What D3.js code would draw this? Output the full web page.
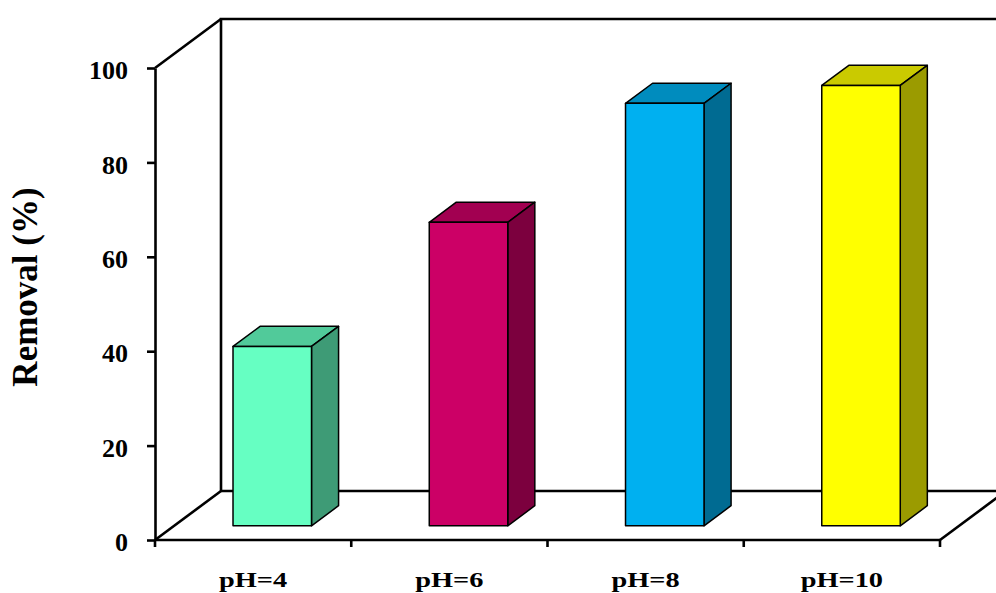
<!DOCTYPE html>
<html>
<head>
<meta charset="utf-8">
<script src="https://cdn.jsdelivr.net/npm/d3@7"></script>
<style>
  body { margin: 0; background: #fff; }
  text { font-family: "Liberation Serif", "Times New Roman", serif; font-weight: bold; fill: #000; }
</style>
</head>
<body>
<script>
// data
const categories = ["pH=4", "pH=6", "pH=8", "pH=10"]
const removal = [38, 64.3, 89.5, 93.3]
const yTicks = [0, 20, 40, 60, 80, 100]
const frontColors = ["#66ffc2", "#cc0066", "#00b0f0", "#ffff00"]

const W = 996, H = 593
const plotLeft = 155, plotRight = 940, plotBottom = 540, plotTop = 68
const DX = 66, DY = 49          // depth offset of the back wall
const z0 = 0.29, z1 = 0.70      // bar depth range (0 = front, 1 = back)

let svg = d3.select("body").append("svg")
  .attr("width", W)
  .attr("height", H)

let x = d3.scaleBand()
  .domain(categories)
  .range([plotLeft, plotRight])
  .paddingInner(0.6)
  .paddingOuter(0.3)

let y = d3.scaleLinear()
  .domain([0, 100])
  .range([plotBottom, plotTop])

// project a (x, value, depth) point to the screen
function proj(px, v, z) {
  return [px + z * DX, y(v) - z * DY]
}

let line = d3.line()
let frame = svg.append("g")
  .attr("fill", "none")
  .attr("stroke", "#000")
  .attr("stroke-width", 2.6)

// back wall and floor back edge
frame.append("path").attr("d", line([proj(plotLeft, 0, 1), proj(plotLeft, 100, 1), proj(plotRight + 40, 100, 1)]))
frame.append("path").attr("d", line([proj(plotLeft, 0, 1), proj(plotRight, 0, 1)]))
// left wall diagonals
frame.append("path").attr("d", line([proj(plotLeft, 100, 0), proj(plotLeft, 100, 1)]))
frame.append("path").attr("d", line([proj(plotLeft, 0, 0), proj(plotLeft, 0, 1)]))
// floor right edge
frame.append("path").attr("d", line([proj(plotRight, 0, 0), proj(plotRight, 0, 1)]))

// bars
let bars = svg.append("g")
  .selectAll("g.bar")
  .data(categories.map((c, i) => ({ c: c, v: removal[i], color: frontColors[i] })))
  .enter()
  .append("g")
  .attr("class", "bar")
  .attr("stroke", "#000")
  .attr("stroke-width", 1.5)
  .attr("stroke-linejoin", "round")

bars.append("path")   // top
  .attr("fill", d => d3.rgb(d.color).darker(0.65))
  .attr("d", d => {
    let a = x(d.c), b = x(d.c) + x.bandwidth()
    return line([proj(a, d.v, z0), proj(b, d.v, z0), proj(b, d.v, z1), proj(a, d.v, z1)]) + "Z"
  })

bars.append("path")   // side
  .attr("fill", d => d3.rgb(d.color).darker(1.4))
  .attr("d", d => {
    let b = x(d.c) + x.bandwidth()
    return line([proj(b, 0, z0), proj(b, d.v, z0), proj(b, d.v, z1), proj(b, 0, z1)]) + "Z"
  })

bars.append("path")   // front
  .attr("fill", d => d.color)
  .attr("d", d => {
    let a = x(d.c), b = x(d.c) + x.bandwidth()
    return line([proj(a, 0, z0), proj(a, d.v, z0), proj(b, d.v, z0), proj(b, 0, z0)]) + "Z"
  })

// y axis
let yAxis = svg.append("g")
  .attr("transform", `translate(${plotLeft},0)`)
  .call(d3.axisLeft(y).tickValues(yTicks).tickSize(8).tickPadding(19).tickSizeOuter(0))

yAxis.select(".domain").attr("stroke-width", 2.6)
yAxis.selectAll(".tick line").attr("stroke-width", 2.6)
yAxis.selectAll(".tick text")
  .attr("font-size", 26)
  .attr("dy", "0.41em")

// x axis: front edge, ticks at category boundaries, labels centred
let xg = svg.append("g")
xg.append("path")
  .attr("d", line([[plotLeft, plotBottom], [plotRight, plotBottom]]))
  .attr("stroke", "#000")
  .attr("stroke-width", 2.6)

let bounds = d3.range(categories.length + 1).map(i => plotLeft + i * x.step())
xg.selectAll("line.tick")
  .data(bounds)
  .enter()
  .append("line")
  .attr("class", "tick")
  .attr("x1", d => d)
  .attr("x2", d => d)
  .attr("y1", plotBottom)
  .attr("y2", plotBottom + 7)
  .attr("stroke", "#000")
  .attr("stroke-width", 2.6)

xg.selectAll("text")
  .data(categories)
  .enter()
  .append("text")
  .attr("x", d => x(d) - x.step() * 0.3 + x.step() / 2)
  .attr("y", 587)
  .attr("text-anchor", "middle")
  .attr("font-size", 22)
  .text(d => d)
  .each(function() {
    let len = this.getComputedTextLength()
    d3.select(this)
      .attr("textLength", len * 1.29)
      .attr("lengthAdjust", "spacingAndGlyphs")
  })

// y axis title
svg.append("text")
  .attr("transform", "translate(37,287) rotate(-90)")
  .attr("text-anchor", "middle")
  .attr("font-size", 35)
  .text("Removal (%)")
</script>
</body>
</html>
